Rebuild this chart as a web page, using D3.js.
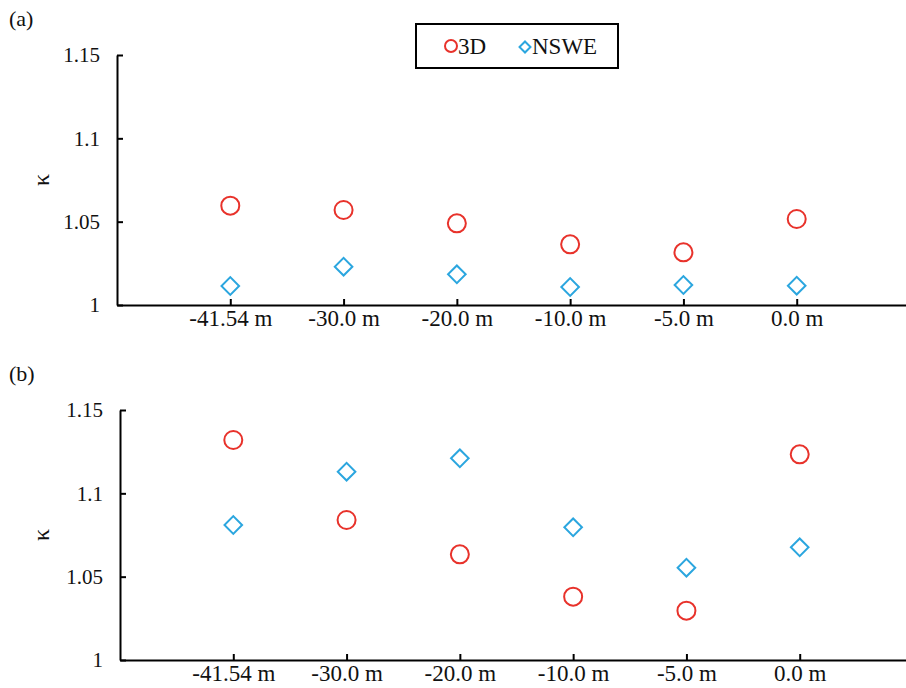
<!DOCTYPE html>
<meta charset="utf-8">

<head>
  <title>kappa</title>
  <style>
    body { margin: 0; background: #fff; }
  </style>
  <script src="https://d3js.org/d3.v7.min.js"></script>
</head>

<body>
  <svg width="906" height="688"></svg>

  <script>
    // data
    var positions = ['-41.54 m', '-30.0 m', '-20.0 m', '-10.0 m', '-5.0 m', '0.0 m'];
    var yTicks = [1, 1.05, 1.1, 1.15];

    var a3D = [1.0596, 1.0570, 1.0490, 1.0364, 1.0316, 1.0516];
    var aNSWE = [1.0114, 1.0230, 1.0184, 1.0108, 1.0120, 1.0116];

    var b3D = [1.1320, 1.0840, 1.0634, 1.0380, 1.0296, 1.1234];
    var bNSWE = [1.0810, 1.1130, 1.1210, 1.0796, 1.0554, 1.0676];

    var red = '#e8322b', blue = '#2ba6df';
    var serif = 'Liberation Serif';

    var svg = d3.select('svg');

    function panel(tag, left, top, bottom, s3D, sNSWE) {
      var x = d3.scalePoint().domain(positions).range([left, left + 793]).padding(1);
      var y = d3.scaleLinear().domain([1, 1.15]).range([bottom, top]);
      var g = svg.append('g').attr('font-family', serif).attr('fill', '#111');

      g.append('text').attr('x', 9).attr('y', top - 29).attr('font-size', 22).text(tag);

      g.append('text')
        .attr('transform', 'translate(49,' + y(1.075) + ') rotate(-90)')
        .attr('text-anchor', 'middle')
        .attr('font-size', 24)
        .text('κ');

      var ya = g.append('g')
        .attr('transform', 'translate(' + left + ',0)')
        .call(d3.axisLeft(y).tickValues(yTicks).tickSizeInner(-6).tickSizeOuter(0)
          .tickPadding(17).tickFormat(function (d) { return String(d); }));
      var xa = g.append('g')
        .attr('transform', 'translate(0,' + bottom + ')')
        .call(d3.axisBottom(x).tickSizeInner(-6).tickSizeOuter(0).tickPadding(5));

      ya.attr('font-family', serif).attr('font-size', 21);
      xa.attr('font-family', serif).attr('font-size', 23);
      [ya, xa].forEach(function (ax) {
        ax.selectAll('path, line').attr('stroke', '#000').attr('stroke-width', 2);
        ax.selectAll('text').attr('fill', '#111');
      });

      g.selectAll('.c3d').data(s3D).enter().append('circle')
        .attr('cx', function (d, i) { return x(positions[i]); })
        .attr('cy', function (d) { return y(d); })
        .attr('r', 9)
        .attr('fill', 'none').attr('stroke', red).attr('stroke-width', 2);

      var diamond = d3.symbol().type(d3.symbolSquare).size(155);
      g.selectAll('.dn').data(sNSWE).enter().append('path')
        .attr('d', diamond)
        .attr('transform', function (d, i) {
          return 'translate(' + x(positions[i]) + ',' + y(d) + ') rotate(45)';
        })
        .attr('fill', 'none').attr('stroke', blue).attr('stroke-width', 2);
    }

    panel('(a)', 117, 55, 305, a3D, aNSWE);
    panel('(b)', 120, 410, 660, b3D, bNSWE);

    // legend
    var lg = svg.append('g').attr('font-family', serif).attr('fill', '#111');
    lg.append('rect').attr('x', 416).attr('y', 24).attr('width', 202).attr('height', 44)
      .attr('fill', '#fff').attr('stroke', '#000').attr('stroke-width', 2);
    lg.append('circle').attr('cx', 451).attr('cy', 46).attr('r', 6)
      .attr('fill', 'none').attr('stroke', red).attr('stroke-width', 2);
    lg.append('text').attr('x', 458).attr('y', 54).attr('font-size', 23).text('3D');
    lg.append('path').attr('d', d3.symbol().type(d3.symbolSquare).size(60))
      .attr('transform', 'translate(525,47) rotate(45)')
      .attr('fill', 'none').attr('stroke', blue).attr('stroke-width', 2);
    lg.append('text').attr('x', 532).attr('y', 54).attr('font-size', 23).text('NSWE');
  </script>
</body>

</html>
